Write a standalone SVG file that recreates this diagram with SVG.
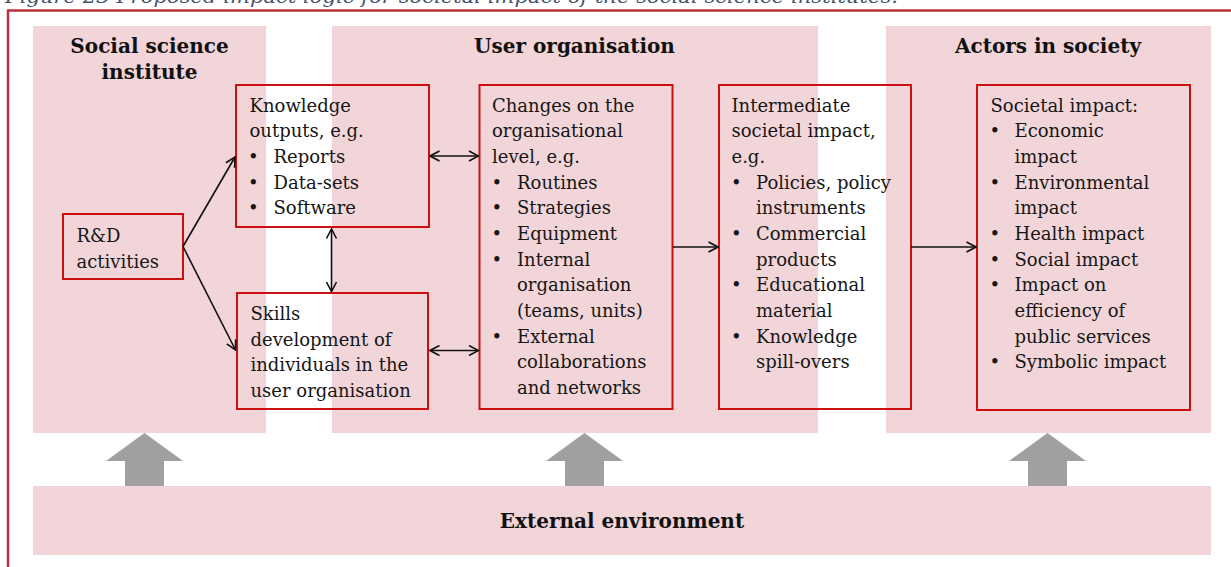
<svg xmlns="http://www.w3.org/2000/svg" width="1231" height="567" viewBox="0 0 1231 567">
  <style>
    .panel { fill: #f2d5d8; }
    .box { fill: none; stroke: #cc1010; stroke-width: 2; }
    .frame { fill: none; stroke: #c0303c; stroke-width: 2.5; }
    .head { font-family: "DejaVu Serif", "Liberation Serif", serif; font-weight: bold; font-size: 20px; fill: #111; text-anchor: middle; }
    .body { font-family: "DejaVu Serif", "Liberation Serif", serif; font-size: 18px; fill: #161616; }
    .caption { font-family: "DejaVu Serif", "Liberation Serif", serif; font-style: italic; font-size: 18px; fill: #44546a; }
    .link { fill: none; stroke: #111; stroke-width: 1.6; }
    .push { fill: #a0a0a0; }
  </style>
  <defs>
    <marker id="chev" viewBox="0 0 12 12" refX="11" refY="6" markerWidth="12" markerHeight="12" markerUnits="userSpaceOnUse" orient="auto-start-reverse">
      <path d="M1.5,1 L11,6 L1.5,11" fill="none" stroke="#111" stroke-width="1.6"/>
    </marker>
  </defs>

  <!-- figure caption, clipped by the top edge -->
  <text class="caption" x="5" y="3" textLength="893" lengthAdjust="spacingAndGlyphs">Figure 23 Proposed impact logic for societal impact of the social science institutes.</text>

  <!-- outer frame -->
  <path class="frame" d="M8,568 L8,10.5 L1232,10.5"/>

  <!-- background panels -->
  <g id="panel-institute">
    <rect class="panel" x="33" y="26" width="233" height="407"/>
    <text class="head" x="149.5" y="53">Social science</text>
    <text class="head" x="149.5" y="79">institute</text>
  </g>
  <g id="panel-user">
    <rect class="panel" x="332" y="26" width="486" height="407"/>
    <text class="head" x="574.5" y="53">User organisation</text>
  </g>
  <g id="panel-society">
    <rect class="panel" x="886" y="26" width="325" height="407"/>
    <text class="head" x="1048" y="53">Actors in society</text>
  </g>
  <g id="panel-environment">
    <rect class="panel" x="33" y="486" width="1178" height="69"/>
    <text class="head" x="622" y="528">External environment</text>
  </g>

  <!-- upward influence arrows -->
  <g id="influence">
    <path class="push" d="M106,461 L144.5,433 L183,461 L164,461 L164,486 L125,486 L125,461 Z"/>
    <path class="push" d="M546,461 L584.5,433 L623,461 L604,461 L604,486 L565,486 L565,461 Z"/>
    <path class="push" d="M1009,461 L1047.5,433 L1086,461 L1067,461 L1067,486 L1028,486 L1028,461 Z"/>
  </g>

  <!-- nodes -->
  <g id="rd">
    <rect class="box" x="63" y="214" width="120" height="65"/>
    <text class="body" x="76.5" y="242">R&amp;D</text>
    <text class="body" x="76.5" y="267.5">activities</text>
  </g>

  <g id="knowledge">
    <rect class="box" x="236" y="85" width="193" height="142"/>
    <text class="body" x="249.5" y="111.7">Knowledge</text>
    <text class="body" x="249.5" y="137.3">outputs, e.g.</text>
    <text class="body" x="248" y="163">•</text><text class="body" x="273.5" y="163">Reports</text>
    <text class="body" x="248" y="188.7">•</text><text class="body" x="273.5" y="188.7">Data-sets</text>
    <text class="body" x="248" y="214.3">•</text><text class="body" x="273.5" y="214.3">Software</text>
  </g>

  <g id="skills">
    <rect class="box" x="237" y="293" width="191" height="116"/>
    <text class="body" x="250.5" y="320">Skills</text>
    <text class="body" x="250.5" y="345.7">development of</text>
    <text class="body" x="250.5" y="371.3">individuals in the</text>
    <text class="body" x="250.5" y="397">user organisation</text>
  </g>

  <g id="organisation">
    <rect class="box" x="479.5" y="85" width="193" height="324"/>
    <text class="body" x="492" y="111.7">Changes on the</text>
    <text class="body" x="492" y="137.3">organisational</text>
    <text class="body" x="492" y="163">level, e.g.</text>
    <text class="body" x="491.5" y="188.7">•</text><text class="body" x="517" y="188.7">Routines</text>
    <text class="body" x="491.5" y="214.3">•</text><text class="body" x="517" y="214.3">Strategies</text>
    <text class="body" x="491.5" y="240">•</text><text class="body" x="517" y="240">Equipment</text>
    <text class="body" x="491.5" y="265.7">•</text><text class="body" x="517" y="265.7">Internal</text>
    <text class="body" x="517" y="291.3">organisation</text>
    <text class="body" x="517" y="317">(teams, units)</text>
    <text class="body" x="491.5" y="342.7">•</text><text class="body" x="517" y="342.7">External</text>
    <text class="body" x="517" y="368.3">collaborations</text>
    <text class="body" x="517" y="394">and networks</text>
  </g>

  <g id="intermediate">
    <rect class="box" x="719" y="85" width="192" height="324"/>
    <text class="body" x="731.5" y="111.7">Intermediate</text>
    <text class="body" x="731.5" y="137.3">societal impact,</text>
    <text class="body" x="731.5" y="163">e.g.</text>
    <text class="body" x="731" y="188.7">•</text><text class="body" x="756" y="188.7">Policies, policy</text>
    <text class="body" x="756" y="214.3">instruments</text>
    <text class="body" x="731" y="240">•</text><text class="body" x="756" y="240">Commercial</text>
    <text class="body" x="756" y="265.7">products</text>
    <text class="body" x="731" y="291.3">•</text><text class="body" x="756" y="291.3">Educational</text>
    <text class="body" x="756" y="317">material</text>
    <text class="body" x="731" y="342.7">•</text><text class="body" x="756" y="342.7">Knowledge</text>
    <text class="body" x="756" y="368.3">spill-overs</text>
  </g>

  <g id="societal">
    <rect class="box" x="977" y="85" width="213" height="325"/>
    <text class="body" x="990.5" y="111.7">Societal impact:</text>
    <text class="body" x="989.5" y="137.3">•</text><text class="body" x="1014.5" y="137.3">Economic</text>
    <text class="body" x="1014.5" y="163">impact</text>
    <text class="body" x="989.5" y="188.7">•</text><text class="body" x="1014.5" y="188.7">Environmental</text>
    <text class="body" x="1014.5" y="214.3">impact</text>
    <text class="body" x="989.5" y="240">•</text><text class="body" x="1014.5" y="240">Health impact</text>
    <text class="body" x="989.5" y="265.7">•</text><text class="body" x="1014.5" y="265.7">Social impact</text>
    <text class="body" x="989.5" y="291.3">•</text><text class="body" x="1014.5" y="291.3">Impact on</text>
    <text class="body" x="1014.5" y="317">efficiency of</text>
    <text class="body" x="1014.5" y="342.7">public services</text>
    <text class="body" x="989.5" y="368.3">•</text><text class="body" x="1014.5" y="368.3">Symbolic impact</text>
  </g>

  <!-- connectors -->
  <g id="connectors">
    <line class="link" x1="183" y1="246.5" x2="235" y2="157" marker-end="url(#chev)"/>
    <line class="link" x1="183" y1="246.5" x2="235.5" y2="350" marker-end="url(#chev)"/>
    <line class="link" x1="430" y1="156" x2="478.5" y2="156" marker-start="url(#chev)" marker-end="url(#chev)"/>
    <line class="link" x1="430" y1="350.5" x2="478.5" y2="350.5" marker-start="url(#chev)" marker-end="url(#chev)"/>
    <line class="link" x1="331.5" y1="229" x2="331.5" y2="291.5" marker-start="url(#chev)" marker-end="url(#chev)"/>
    <line class="link" x1="673" y1="247" x2="718" y2="247" marker-end="url(#chev)"/>
    <line class="link" x1="911" y1="247" x2="976" y2="247" marker-end="url(#chev)"/>
  </g>
</svg>
